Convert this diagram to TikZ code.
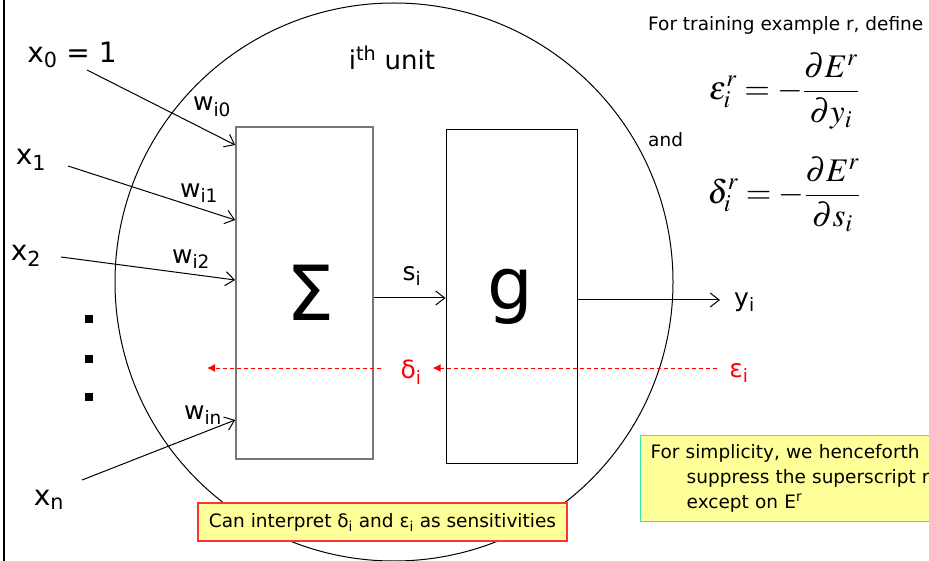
\documentclass[tikz,border=0pt]{standalone}
\usepackage{mathptmx}
\usepackage{fontspec}
\setmainfont{DejaVu Sans}
\usetikzlibrary{arrows.meta}
\definecolor{noteyellow}{HTML}{FFFF99}
\definecolor{notered}{HTML}{FF3333}
\definecolor{notegreen}{HTML}{33E8B0}
\definecolor{boxgray}{HTML}{777777}

\begin{document}
\begin{tikzpicture}[
		x=1pt, y=-1pt,
		sbox/.style={rectangle, draw=boxgray, line width=1.6pt, minimum width=137, minimum height=332},
		gbox/.style={rectangle, draw, line width=1pt, minimum width=131, minimum height=333},
		lbl/.style={inner sep=0pt, font=\fontsize{25}{28}\selectfont},
		big/.style={inner sep=0pt, font=\fontsize{28}{32}\selectfont},
		txt/.style={inner sep=0pt, font=\fontsize{18.5}{25}\selectfont},
		r/.style={-{Straight Barb[length=9pt, width=14pt]}, line width=1pt},
		err/.style={-{Latex[length=8pt, width=8pt]}, red, line width=1pt, dash pattern=on 4pt off 3pt},
		notebox/.style={rectangle, fill=noteyellow, line width=1.3pt, font=\fontsize{18.5}{25}\selectfont},
		]

		\useasboundingbox (0, 0) rectangle (929, 561);
		\draw[line width=2.5pt] (4, 0) -- (4, 561);
		\draw[line width=1pt] (394, 282) circle[radius=279pt];

		%Nodes
		\node[sbox]	(sum)		at	(304.5, 293)	{};
		\node[gbox]	(act)		at	(511.5, 296.5)	{};
		\node[inner sep=0pt, anchor=base, font=\fontsize{76}{80}\selectfont]	(sigma)	at	(311, 320)	{Σ};
		\node[inner sep=0pt, anchor=base, font=\fontsize{72}{75}\selectfont]	(gname)	at	(510, 310)	{g};
		\node[lbl, font=\fontsize{26}{30}\selectfont]	(unit)	at	(392, 58)	{i\textsuperscript{th} unit};

		\node[big]	(x0)		at	(72, 55)	{x\textsubscript{0} = 1};
		\node[big]	(x1)		at	(31, 160)	{x\textsubscript{1}};
		\node[big]	(x2)		at	(26, 256)	{x\textsubscript{2}};
		\node[big]	(xn)		at	(49, 500)	{x\textsubscript{n}};

		\node[lbl]	(w0)		at	(212, 107)	{w\textsubscript{i0}};
		\node[lbl]	(w1)		at	(199, 193)	{w\textsubscript{i1}};
		\node[lbl]	(w2)		at	(191, 259)	{w\textsubscript{i2}};
		\node[lbl]	(wn)		at	(203, 415)	{w\textsubscript{in}};

		\node[lbl]	(si)		at	(412, 276)	{s\textsubscript{i}};
		\node[lbl, anchor=west]	(yi)	at	(734, 302)	{y\textsubscript{i}};
		\node[lbl, red]	(delta)	at	(411, 372)	{δ\textsubscript{i}};
		\node[lbl, red]	(eps)	at	(739, 373)	{ε\textsubscript{i}};

		\node[txt, anchor=west]	(train)	at	(648, 25)	{For training example r, define};
		\node[txt, anchor=west]	(and)	at	(648, 140)	{and};
		\node[inner sep=0pt, font=\fontsize{33}{36}\selectfont]	(epsdef)	at	(784, 91)
			{$\displaystyle \varepsilon_i^r = -\frac{\partial E^r}{\partial y_i}$};
		\node[inner sep=0pt, font=\fontsize{33}{36}\selectfont]	(deltadef)	at	(784, 194)
			{$\displaystyle \delta_i^r = -\frac{\partial E^r}{\partial s_i}$};

		\node[notebox, draw=notered, minimum width=369, minimum height=38]	(sens)	at	(382.5, 522)
			{Can interpret δ\textsubscript{i} and ε\textsubscript{i} as sensitivities};
		\node[notebox, draw=notegreen, anchor=north west, text width=300, align=left, inner xsep=10, inner ysep=9]	(simple)	at	(640, 435)
			{For simplicity, we henceforth\\\hspace*{1.95em}suppress the superscript r\\\hspace*{1.95em}except on E\textsuperscript{r}};

		\foreach \y in {319, 359, 397}
			\fill (89, \y) +(-4.25, -4.25) rectangle +(4.25, 4.25);

		%Inputs
		\coordinate	(t0)	at	(87, 70);
		\coordinate	(t1)	at	(68, 166);
		\coordinate	(t2)	at	(61, 257);
		\coordinate	(tn)	at	(82, 480);
		\draw[r]	(t0)	--	(sum.west |- 0,145);
		\draw[r]	(t1)	--	(sum.west |- 0,220);
		\draw[r]	(t2)	--	(sum.west |- 0,280);
		\draw[r]	(tn)	--	(sum.west |- 0,420);

		%Forward and backward
		\draw[r]	(sum.east |- 0,298)	--	(act.west |- 0,298);
		\draw[r, shorten >=14pt]	(act.east |- 0,300)	--	(yi.west |- 0,300);
		\coordinate	(dl)	at	(207, 368);
		\draw[err, shorten <=12pt, shorten >=11pt]	(eps.west |- 0,368)	--	(delta.east |- 0,368);
		\draw[err, shorten <=19pt]	(delta.west |- 0,368)	--	(dl);
	\end{tikzpicture}
\end{document}
